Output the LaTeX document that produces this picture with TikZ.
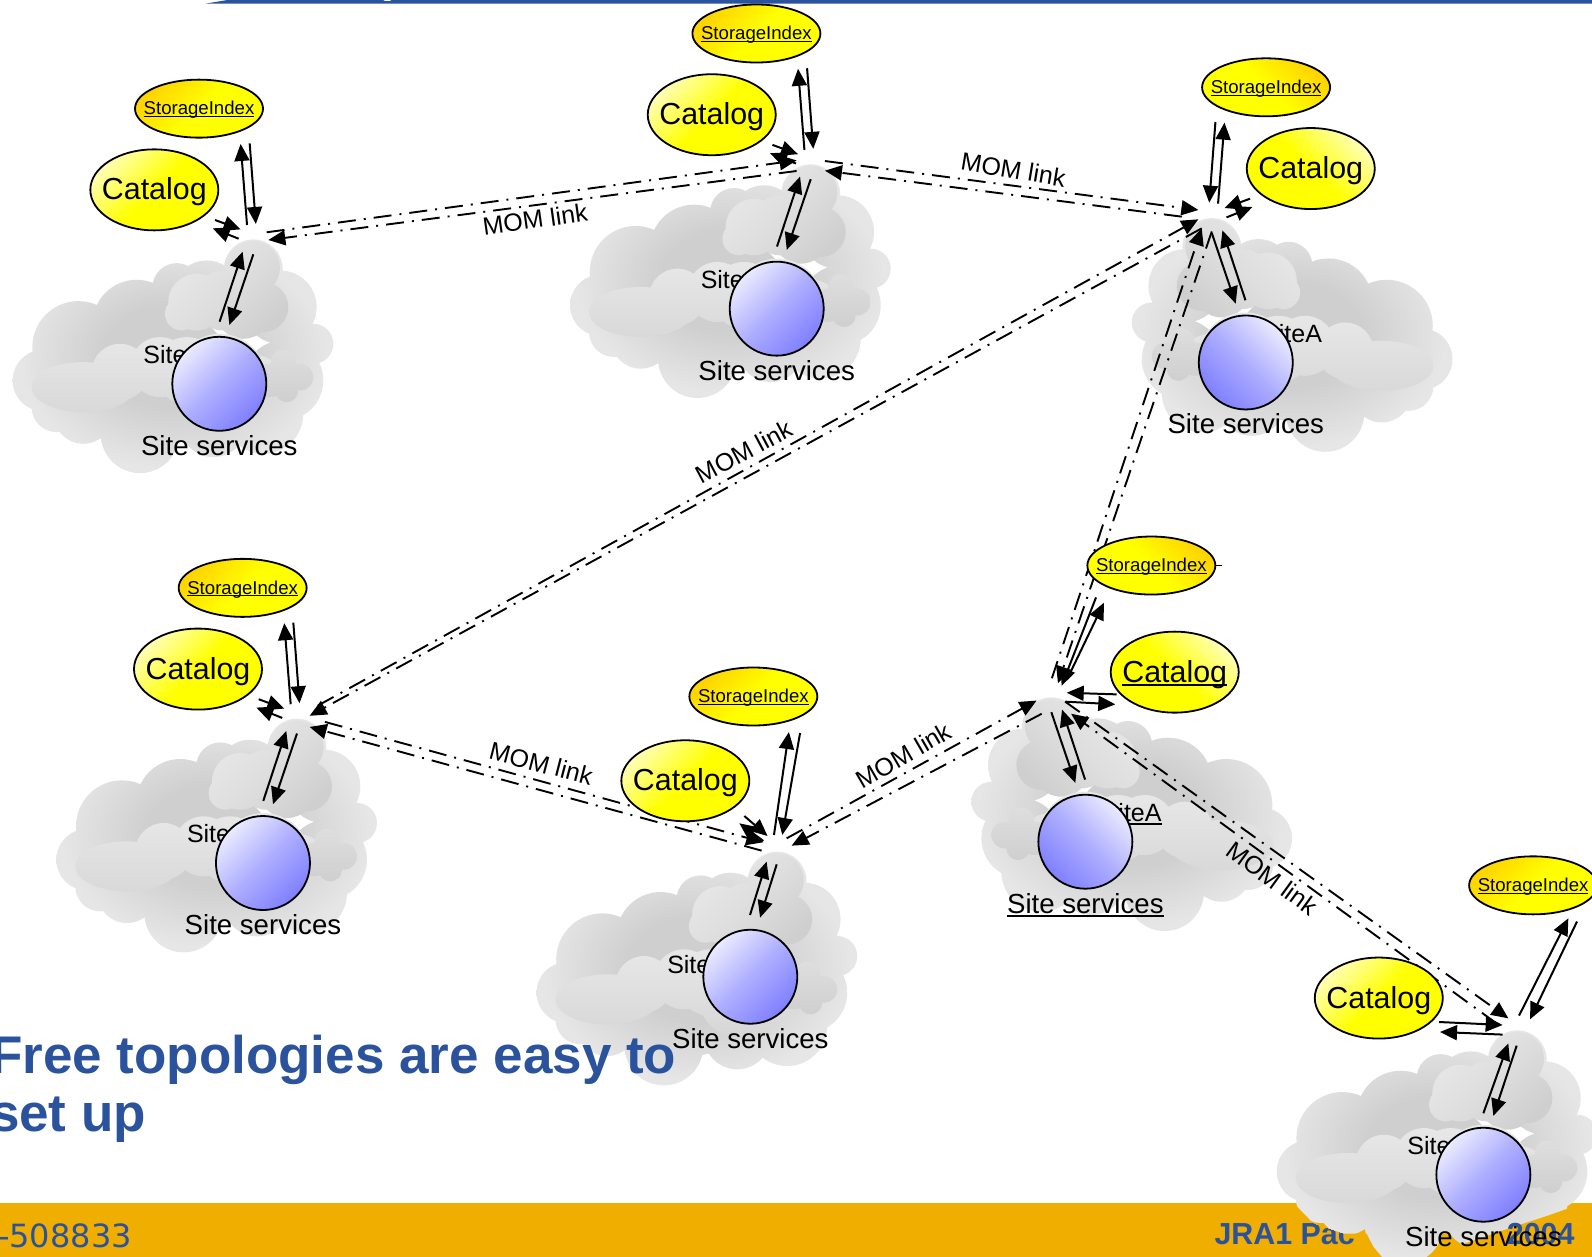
\documentclass[tikz,border=0pt]{standalone}
\usepackage{fontspec}
\setmainfont{Liberation Sans}
\newfontfamily\footfont{DejaVu Sans}
\usetikzlibrary{arrows.meta,shapes.geometric}
\definecolor{titleblue}{HTML}{2B529C}
\definecolor{footorange}{HTML}{F0AE00}
\definecolor{cA}{HTML}{CFCFCF}
\definecolor{cB}{HTML}{E6E6E6}
\definecolor{cC}{HTML}{D6D6D6}
\definecolor{cD}{HTML}{DEDEDE}
\definecolor{cL}{HTML}{E8E8E8}
\definecolor{gold}{HTML}{FFD400}
\pgfdeclareradialshading{cldback}{\pgfpointorigin}{color(0bp)=(cA);color(11bp)=(cA);color(24bp)=(cB);color(50bp)=(cB)}
\newsavebox\ulbox
\newcommand\ulx[1]{\leavevmode\sbox\ulbox{#1}\rlap{\vrule width\wd\ulbox height -0.07em depth 0.13em}\usebox\ulbox}
\newcommand\ctxt[1]{\makebox[0pt]{\smash{\raisebox{-.33em}{#1}}}}
\tikzset{
  arr/.style={line width=2pt,-{Triangle[length=17pt,width=15pt]}},
  mom/.style={line width=1.9pt,dash pattern=on 18pt off 8pt on 2pt off 8pt,-{Triangle[length=17pt,width=15pt]}},
  lbl/.style={inner sep=0pt,font=\fontsize{25}{28}\selectfont},
  svl/.style={inner sep=0pt,font=\fontsize{27.6}{30}\selectfont},
  momlbl/.style={inner sep=0pt,font=\fontsize{25}{28}\selectfont},
  catn/.style={ellipse,draw=black,line width=1.8pt,minimum width=128pt,minimum height=81pt,inner sep=0pt,
    top color=yellow!30!white,bottom color=yellow,middle color=yellow,shading angle=#1,font=\fontsize{30.4}{33}\selectfont},
  sin/.style={ellipse,draw=black,line width=1.8pt,minimum width=128pt,minimum height=58pt,inner sep=0pt,
    top color=gold,bottom color=yellow,middle color=yellow,shading angle=#1,font=\fontsize{18.6}{21}\selectfont},
  svc/.style={circle,draw=black,line width=1.8pt,minimum size=94pt,inner sep=0pt,
    top color=blue!8!white,bottom color=blue!50!white,middle color=blue!32!white,shading angle=#1},
}
\newcommand\conn[3]{\coordinate (#1s) at #2;\coordinate (#1e) at #3;\draw[arr] (#1s) -- (#1e);}
\newcommand\momc[3]{\coordinate (#1s) at #2;\coordinate (#1e) at #3;\draw[mom] (#1s) -- (#1e);}
% cloud in zoom-pixel coordinates: #1 transform, #2 shading angle
\newcommand\cloudshape[2]{%
\begin{scope}[#1,x=.3333pt,y=-.3333pt,shift={(-658,-970)}]
\shade[shading=cldback] (130,960) circle (92) (235,860) circle (138) (410,790) circle (132)
  (530,680) circle (72) (620,700) circle (100) (760,625) circle (88) (840,740) circle (110)
  (940,850) circle (60) (850,960) circle (120) (790,1060) circle (120) (640,1090) circle (100)
  (420,1120) circle (118) (250,1060) circle (90) (170,1040) circle (75) (500,950) circle (200);
\shade[top color=cL,middle color=cD,bottom color=cA,middle color=cD,shading angle=#2]
  (545,760) circle (50) (590,725) circle (85) (670,720) circle (90)
  (760,622) circle (80) (790,740) circle (75) (730,750) circle (85);
\shade[top color=cL,bottom color=cC]
  (250,980) ellipse [x radius=155,y radius=75] (360,935) circle (85)
  (480,920) circle (90) (560,930) circle (100) (660,960) circle (140) (770,960) circle (75);
\shade[top color=cD,bottom color=cA]
  (850,905) circle (38) (900,950) circle (40) (860,990) circle (35) (810,960) circle (50);
\end{scope}}
% ellipses and short arrows of the sites that share one arrangement
\newcommand\sitegroup[3]{%
\begin{scope}[#2]
\node[catn=#3] (cat#1) at (152,187) {\ctxt{Catalog}};
\node[sin=#3] (si#1) at (196,107) {\ctxt{\ulx{StorageIndex}}};
\conn{#1ci}{(211.8,216.7)}{(237,225.9)}
\conn{#1co}{(235,235.1)}{(209.5,224.9)}
\conn{#1su}{(243.3,221.6)}{(237,141.8)}
\conn{#1sd}{(245.9,141.2)}{(252,220.6)}
\conn{#1hu}{(216.3,316.8)}{(239,247.9)}
\conn{#1hd}{(249.5,250.5)}{(225.9,320.1)}
\end{scope}}
\begin{document}
\begin{tikzpicture}[x=1.01531pt,y=-1.01531pt]
\useasboundingbox (0,0) rectangle (1568,1238);
\clip (0,0) rectangle (1568,1238);
\fill[white] (0,0) rectangle (1568,1238);
% top bar and footer
\fill[titleblue] (203,3.5) -- (224,0) -- (1568,0) -- (1568,3.5) -- cycle;
\fill[white] (381.5,0) ellipse [x radius=4,y radius=1];
\fill[footorange] (0,1185) rectangle (1568,1238);
\node[anchor=base east,inner sep=0pt,text=titleblue,font=\footfont\fontsize{32}{35}\selectfont] (grant) at (130,1229) {-508833};
% clouds
\cloudshape{shift={(216,378)}}{45}
\cloudshape{shift={(765,304)}}{45}
\cloudshape{shift={(1227,357)},xscale=-1}{-45}
\cloudshape{shift={(259,850)}}{45}
\cloudshape{shift={(732,981)}}{45}
\cloudshape{shift={(1069,829)},xscale=-1}{-45}
\cloudshape{shift={(1461,1157)}}{45}
% footer strip in front of the last cloud
\fill[footorange] (1405.5,1238) -- (1445,1224) -- (1484,1210.6) -- (1526.6,1196.6) -- (1559,1185) -- (1568,1185) -- (1568,1238) -- cycle;
\begin{scope}
\clip (1190,1185) -- (1270,1185) -- (1277,1188) -- (1293.5,1205) -- (1323,1215) -- (1346,1215) -- (1352.6,1228) -- (1361,1238) -- (1190,1238) -- cycle;
\fill[footorange] (1190,1185) rectangle (1400,1238);
\node[anchor=base west,inner sep=0pt,text=titleblue,font=\bfseries\fontsize{30.4}{33}\selectfont] (foot) at (1196,1226) {JRA1 Pac};
\end{scope}
\node[anchor=base east,inner sep=0pt,text=titleblue,font=\bfseries\fontsize{30.4}{33}\selectfont] (year) at (1551,1226) {2004};
% title
\node[anchor=base west,inner sep=0pt,text=titleblue,font=\bfseries\fontsize{53}{58}\selectfont] (title1) at (-10,1057.5) {Free topologies are easy to};
\node[anchor=base west,inner sep=0pt,text=titleblue,font=\bfseries\fontsize{53}{58}\selectfont] (title2) at (-10,1114.5) {set up};
% MOM links
\momc{a12}{(262.6,228.8)}{(784.6,158)}
\momc{b12}{(784.6,168.4)}{(264.3,236.4)}
\momc{a23}{(812.5,158.6)}{(1180.3,206.8)}
\momc{b23}{(1163.9,213.4)}{(812.5,168.1)}
\momc{a43}{(313,695)}{(1180.3,216)}
\momc{b43}{(1183.6,224.9)}{(305,705)}
\momc{a45}{(320,711)}{(751.8,829.6)}
\momc{b45}{(750.1,837.8)}{(305,716)}
\momc{a56}{(774.8,825.7)}{(1021,690)}
\momc{b56}{(1026,703)}{(779.7,832.9)}
\momc{a63}{(1036,668)}{(1183.6,224.9)}
\momc{b63}{(1193.5,228)}{(1042,673)}
\momc{a67}{(1049,691)}{(1485.6,1003)}
\momc{b67}{(1474,1008)}{(1055,703)}
\node[momlbl,rotate=8] (m12) at (527,216) {MOM link};
\node[momlbl,rotate=-9.5] (m23) at (998,167) {MOM link};
\node[momlbl,rotate=28] (m43) at (733,445) {MOM link};
\node[momlbl,rotate=-14.5] (m45) at (533,752) {MOM link};
\node[momlbl,rotate=30] (m56) at (890,744) {MOM link};
\node[momlbl,rotate=-36] (m67) at (1253,865) {MOM link};
% site labels
\node[lbl,anchor=base west] (sa1) at (141,358) {SiteA};
\node[lbl,anchor=base west] (sa2) at (690,284) {SiteA};
\node[lbl,anchor=base west] (sa3) at (1243,337) {SiteA};
\node[lbl,anchor=base west] (sa4) at (184,830) {SiteA};
\node[lbl,anchor=base west] (sa5) at (657,959) {SiteA};
\node[lbl,anchor=base west] (sa6) at (1085,809) {\ulx{SiteA}};
\node[lbl,anchor=base west] (sa7) at (1386,1137) {SiteA};
% site service circles
\node[svc=45] (svc1) at (216,378) {};
\node[svc=45] (svc2) at (765,304) {};
\node[svc=-45] (svc3) at (1227,357) {};
\node[svc=45] (svc4) at (259,850) {};
\node[svc=45] (svc5) at (739,962) {};
\node[svc=-45] (svc6) at (1069,829) {};
\node[svc=45] (svc7) at (1461,1157) {};
\node[svl,anchor=base] (sv1) at (216,448.3) {Site services};
\node[svl,anchor=base] (sv2) at (765,374.3) {Site services};
\node[svl,anchor=base] (sv3) at (1227,427.3) {Site services};
\node[svl,anchor=base] (sv4) at (259,920.3) {Site services};
\node[svl,anchor=base] (sv5) at (739,1032.3) {Site services};
\node[svl,anchor=base] (sv6) at (1069,899.3) {\ulx{Site services}};
\node[svl,anchor=base] (sv7) at (1461,1227.3) {Site services};
% catalogs, indexes and arrows
\sitegroup{1}{shift={(0,0)}}{45}
\sitegroup{2}{shift={(549,-74)}}{45}
\sitegroup{3}{shift={(1443,-21)},xscale=-1}{-45}
\sitegroup{4}{shift={(43,472)}}{45}
% site 5
\node[catn=45] (cat5) at (675,769) {\ctxt{Catalog}};
\node[sin=45] (si5) at (742,686) {\ctxt{\ulx{StorageIndex}}};
\conn{5ci}{(733.1,803.7)}{(756,823.4)}
\conn{5co}{(751.8,828.3)}{(728.2,810.9)}
\conn{5su}{(762.3,822.4)}{(777,721)}
\conn{5sd}{(788,722)}{(770.5,822.4)}
\conn{5hu}{(738.7,901.2)}{(755.1,848.6)}
\conn{5hd}{(765,851.3)}{(748.6,903.8)}
% site 6
\node[catn=-45] (cat6) at (1157,662) {\ctxt{\ulx{Catalog}}};
\node[sin=-45] (si6) at (1134,557) {\ctxt{\ulx{StorageIndex}}};
\draw[line width=1.8pt] (si6.east) -- ++(6,0);
\conn{6co}{(1099.8,683.9)}{(1050.6,682.3)}
\conn{6ci}{(1049.6,691.1)}{(1098.5,693.7)}
\conn{6su}{(1052.2,666.5)}{(1087.3,593.6)}
\conn{6sd}{(1079.5,588.4)}{(1045.6,675.4)}
\conn{6hu}{(1068.7,767.8)}{(1046,698.9)}
\conn{6hd}{(1035.5,701.5)}{(1059.1,771.1)}
% site 7
\node[catn=45] (cat7) at (1358,983) {\ctxt{Catalog}};
\node[sin=45] (si7) at (1510,872) {\ctxt{\ulx{StorageIndex}}};
\conn{7ci}{(1417.3,1006.6)}{(1480,1009.5)}
\conn{7co}{(1480,1019)}{(1418.3,1016.4)}
\conn{7su}{(1496.1,1000.3)}{(1544.7,904.5)}
\conn{7sd}{(1553.2,907.7)}{(1507,1003.9)}
\conn{7hu}{(1461,1096.5)}{(1485.6,1027.6)}
\conn{7hd}{(1493.8,1029.9)}{(1470.8,1099.1)}
\end{tikzpicture}
\end{document}
